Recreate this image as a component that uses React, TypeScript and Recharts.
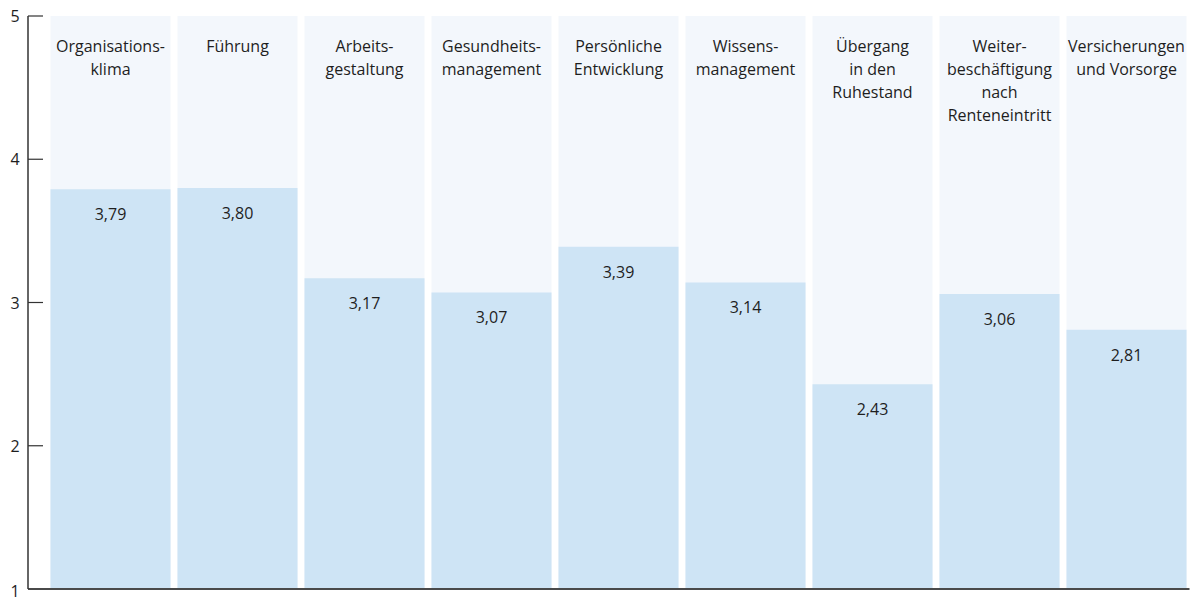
import React from "react";
import { BarChart, Bar, XAxis, YAxis, LabelList, ReferenceLine } from "recharts";

const categories = [
  "Organisations-\nklima",
  "Führung",
  "Arbeits-\ngestaltung",
  "Gesundheits-\nmanagement",
  "Persönliche\nEntwicklung",
  "Wissens-\nmanagement",
  "Übergang\nin den\nRuhestand",
  "Weiter-\nbeschäftigung\nnach\nRenteneintritt",
  "Versicherungen\nund Vorsorge",
];

const scores = [3.79, 3.8, 3.17, 3.07, 3.39, 3.14, 2.43, 3.06, 2.81];

const yTicks = [1, 2, 3, 4, 5];

const data = categories.map((name, i) => ({ name, score: scores[i], max: 5 }));

const FONT = "'Open Sans', sans-serif";
const FS = 16;

const CategoryLabel = (props: any) => {
  const { x, y, width, value } = props;
  const lines = String(value).split("\n");
  return (
    <text x={x + width / 2} y={y + 36} textAnchor="middle" fontFamily={FONT} fontSize={FS} fill="#1e1e1e">
      {lines.map((l, i) => (
        <tspan key={i} x={x + width / 2} dy={i === 0 ? 0 : 23}>
          {l}
        </tspan>
      ))}
    </text>
  );
};

const ValueLabel = (props: any) => {
  const { x, y, width, value } = props;
  return (
    <text x={x + width / 2} y={y + 31} textAnchor="middle" fontFamily={FONT} fontSize={FS} fill="#1e1e1e">
      {Number(value).toFixed(2).replace(".", ",")}
    </text>
  );
};

const YTick = (props: any) => {
  const { x, y, payload } = props;
  return (
    <g>
      {payload.value !== 1 && <line x1={x + 8} x2={x + 23} y1={y} y2={y} stroke="#333" strokeWidth={1.2} />}
      <text x={x - 5} y={y + (payload.value === 1 ? 8 : 6)} textAnchor="middle" fontFamily={FONT} fontSize={FS} fill="#1e1e1e">
        {payload.value}
      </text>
    </g>
  );
};

export default function App() {
  return (
    <div style={{ position: "absolute", left: 0, top: 0 }}>
      <BarChart
        width={1192}
        height={601}
        data={data}
        margin={{ top: 16, right: 2.5, bottom: 12, left: 0 }}
        barCategoryGap={3.5}
      >
        <XAxis xAxisId="bg" dataKey="name" hide padding={{ left: 18.5, right: 0 }} />
        <XAxis
          xAxisId="main"
          dataKey="name"
          height={0}
          tick={false}
          tickLine={false}
          axisLine={false}
          padding={{ left: 18.5, right: 0 }}
        />
        <YAxis
          width={28}
          domain={[1, 5]}
          ticks={yTicks}
          tickLine={false}
          axisLine={{ stroke: "#333", strokeWidth: 1.5 }}
          tick={<YTick />}
          interval={0}
        />
        <Bar xAxisId="bg" dataKey="max" fill="#f3f7fc" barSize={120} isAnimationActive={false}>
          <LabelList dataKey="name" content={<CategoryLabel />} />
        </Bar>
        <Bar xAxisId="main" dataKey="score" fill="#cee4f5" barSize={120} isAnimationActive={false}>
          <LabelList dataKey="score" content={<ValueLabel />} />
        </Bar>
        <ReferenceLine xAxisId="main" y={1} stroke="#4a4a4a" strokeWidth={2} />
      </BarChart>
    </div>
  );
}
